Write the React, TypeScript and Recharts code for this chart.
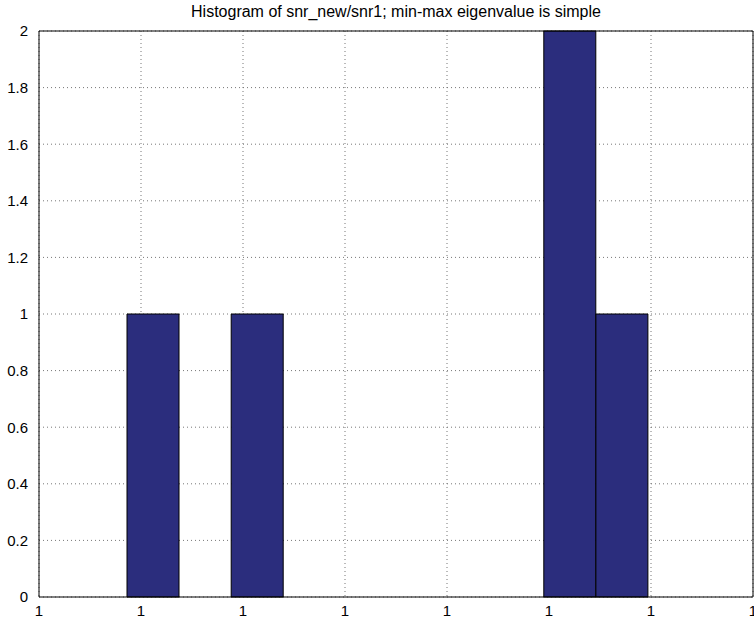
import React from "react";
import {
  BarChart,
  Bar,
  XAxis,
  YAxis,
  CartesianGrid,
  ReferenceLine,
  Cell,
} from "recharts";

// Histogram bins (10 bins) and their counts
const bins = ["b1", "b2", "b3", "b4", "b5", "b6", "b7", "b8", "b9", "b10"];
const binCenters = [1.12, 1.63, 2.14, 2.65, 3.16, 3.67, 4.18, 4.69, 5.2, 5.71];
const counts = [1, 0, 1, 0, 0, 0, 0, 0, 2, 1];

// Numeric x axis ticks (all labelled "1" in the original)
const xTicks = [0, 1, 2, 3, 4, 5, 6, 7];
const xTickLabels = ["1", "1", "1", "1", "1", "1", "1", "1"];
const yTicks = [0, 0.2, 0.4, 0.6, 0.8, 1, 1.2, 1.4, 1.6, 1.8, 2];

const title = "Histogram of snr_new/snr1; min-max eigenvalue is simple";

const data = bins.map((bin, i) => ({ bin, pos: binCenters[i], count: counts[i] }));

const FONT = "'Liberation Sans', Arial, sans-serif";
const BAR_COLOR = "#2b2d7d";

const App: React.FC = (): JSX.Element => {
  return (
    <div
      style={{
        position: "absolute",
        left: 0,
        top: 0,
        width: 754,
        height: 624,
        background: "#fff",
        fontFamily: FONT,
      }}
    >
      {/* Titulo */}
      <div
        style={{
          position: "absolute",
          left: 39,
          width: 714,
          top: 3,
          textAlign: "center",
          fontSize: 16,
          color: "#000",
        }}
      >
        {title}
      </div>
      <BarChart
        width={754}
        height={624}
        data={data}
        margin={{ top: 31, right: 1, left: 0, bottom: 0 }}
        barCategoryGap={0}
        barGap={0}
      >
        <CartesianGrid
          xAxisId="num"
          strokeDasharray="1 3"
          stroke="#777"
        />
        {/* Eje numerico visible */}
        <XAxis
          xAxisId="num"
          dataKey="pos"
          type="number"
          domain={[0, 7]}
          ticks={xTicks}
          allowDataOverflow
          tickFormatter={(v: number) => xTickLabels[xTicks.indexOf(v)] ?? ""}
          tickLine={false}
          axisLine={{ stroke: "#000" }}
          tick={{ fill: "#000", fontSize: 15, fontFamily: FONT }}
          tickMargin={2}
          height={27}
          interval={0}
        />
        {/* Eje de bins (oculto) */}
        <XAxis
          xAxisId="bins"
          dataKey="bin"
          type="category"
          hide
          height={0}
          padding={{ left: 88, right: 105 }}
        />
        <YAxis
          type="number"
          domain={[0, 2]}
          ticks={yTicks}
          tickLine={false}
          axisLine={{ stroke: "#000" }}
          tick={{ fill: "#000", fontSize: 15, fontFamily: FONT }}
          tickMargin={5}
          width={39}
          interval={0}
        />
        <ReferenceLine xAxisId="num" y={2} stroke="#000" />
        <ReferenceLine xAxisId="num" x={7} stroke="#000" />
        <Bar
          xAxisId="bins"
          dataKey="count"
          isAnimationActive={false}
          stroke="#000"
          strokeWidth={1}
        >
          {data.map((d, index) => (
            <Cell key={`cell-${index}`} fill={BAR_COLOR} />
          ))}
        </Bar>
      </BarChart>
    </div>
  );
};

export default App;
